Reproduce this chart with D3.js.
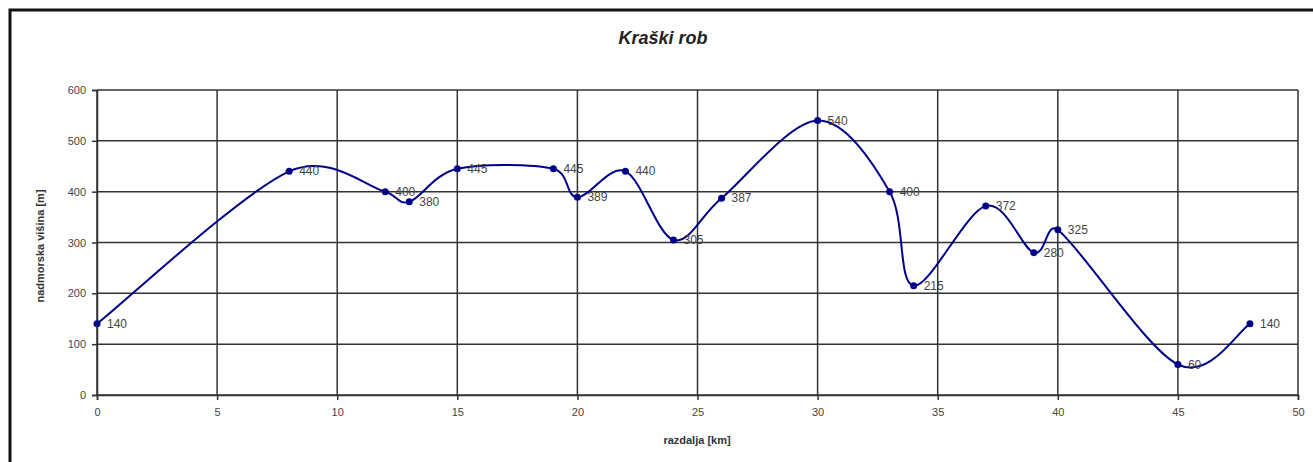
<!DOCTYPE html>
<html><head><meta charset="utf-8">
<script src="https://cdn.jsdelivr.net/npm/d3@7"></script>
<style>body{margin:0;background:#fff}svg{display:block}text{font-family:"Liberation Sans",Arial,sans-serif}</style>
</head><body><svg id="c" width="1313" height="462"></svg>
<script>
const distances = [0, 8, 12, 13, 15, 19, 20, 22, 24, 26, 30, 33, 34, 37, 39, 40, 45, 48];
const elevations = [140, 440, 400, 380, 445, 445, 389, 440, 305, 387, 540, 400, 215, 372, 280, 325, 60, 140];
const xTicks = [0, 5, 10, 15, 20, 25, 30, 35, 40, 45, 50];
const yTicks = [0, 100, 200, 300, 400, 500, 600];
const title = "Kraški rob";
const xLabel = "razdalja [km]";
const yLabel = "nadmorska višina [m]";

const svg = d3.select("#c");
const m = {l: 97, r: 1298, t: 90, b: 395};
const x = d3.scaleLinear().domain([0, 50]).range([m.l, m.r]);
const y = d3.scaleLinear().domain([0, 600]).range([m.b, m.t]);

// Excel-like smoothing: Catmull-Rom tangents (1/6) with control arms capped relative to segment length
function ExcelSmooth(context) { this._context = context; }
ExcelSmooth.prototype = {
  areaStart() {}, areaEnd() {},
  lineStart() { this._p = []; },
  point(px, py) { this._p.push([+px, +py]); },
  lineEnd() {
    const p = this._p, c = this._context, n = p.length;
    if (!n) return;
    c.moveTo(p[0][0], p[0][1]);
    const tan = i => {
      const a = p[Math.max(0, i - 1)], b = p[Math.min(n - 1, i + 1)];
      return [(b[0] - a[0]) / 6, (b[1] - a[1]) / 6];
    };
    const cap = (t, len) => {
      const l = Math.hypot(t[0], t[1]), mx = len * 0.45;
      return l > mx && l > 0 ? [t[0] * mx / l, t[1] * mx / l] : t;
    };
    for (let i = 0; i < n - 1; i++) {
      const a = p[i], b = p[i + 1];
      const len = Math.hypot(b[0] - a[0], b[1] - a[1]);
      const t0 = cap(tan(i), len), t1 = cap(tan(i + 1), len);
      c.bezierCurveTo(a[0] + t0[0], a[1] + t0[1], b[0] - t1[0], b[1] - t1[1], b[0], b[1]);
    }
  }
};
const curveExcel = ctx => new ExcelSmooth(ctx);

// outer frame
svg.append("rect").attr("x", 10).attr("y", 10).attr("width", 1320).attr("height", 470)
  .attr("fill", "none").attr("stroke", "#111").attr("stroke-width", 3);

// grid
svg.append("g").selectAll("line").data(yTicks).join("line")
  .attr("x1", m.l).attr("x2", m.r).attr("y1", d => y(d)).attr("y2", d => y(d))
  .attr("stroke", "#333").attr("stroke-width", 1.5);
svg.append("g").selectAll("line").data(xTicks).join("line")
  .attr("y1", m.t).attr("y2", m.b).attr("x1", d => x(d)).attr("x2", d => x(d))
  .attr("stroke", "#333").attr("stroke-width", 1.5);

// axes
const ax = svg.append("g").attr("transform", `translate(0,${m.b})`)
  .call(d3.axisBottom(x).tickValues(xTicks).tickSize(5).tickPadding(8));
const ay = svg.append("g").attr("transform", `translate(${m.l},0)`)
  .call(d3.axisLeft(y).tickValues(yTicks).tickSize(5).tickPadding(6));
[ax, ay].forEach(a => {
  a.select(".domain").attr("stroke", "#333").attr("stroke-width", 1.5);
  a.selectAll(".tick line").attr("stroke", "#333").attr("stroke-width", 1.5);
  a.selectAll(".tick text").attr("fill", "#444").style("font-size", "11px").style("font-family", "Liberation Sans, Arial, sans-serif");
});

// line
const line = d3.line().x((d, i) => x(distances[i])).y(d => y(d)).curve(curveExcel);
svg.append("path").datum(elevations).attr("d", line)
  .attr("fill", "none").attr("stroke", "#000088").attr("stroke-width", 2);

svg.append("g").selectAll("circle").data(elevations).join("circle")
  .attr("cx", (d, i) => x(distances[i])).attr("cy", d => y(d)).attr("r", 3.5).attr("fill", "#000088");

svg.append("g").selectAll("text").data(elevations).join("text")
  .attr("x", (d, i) => x(distances[i]) + 10).attr("y", d => y(d) + 4)
  .attr("fill", "#444").style("font-size", "12px").text(d => d);

// titles
svg.append("text").attr("x", 663).attr("y", 44).attr("text-anchor", "middle")
  .style("font-size", "18px").style("font-weight", "bold").style("font-style", "italic").attr("fill", "#222").text(title);
svg.append("text").attr("x", 697).attr("y", 444).attr("text-anchor", "middle")
  .style("font-size", "11px").style("font-weight", "bold").attr("fill", "#333").text(xLabel);
svg.append("text").attr("transform", "translate(44,246) rotate(-90)").attr("text-anchor", "middle")
  .style("font-size", "11px").style("font-weight", "bold").attr("fill", "#333").text(yLabel);
</script></body></html>
